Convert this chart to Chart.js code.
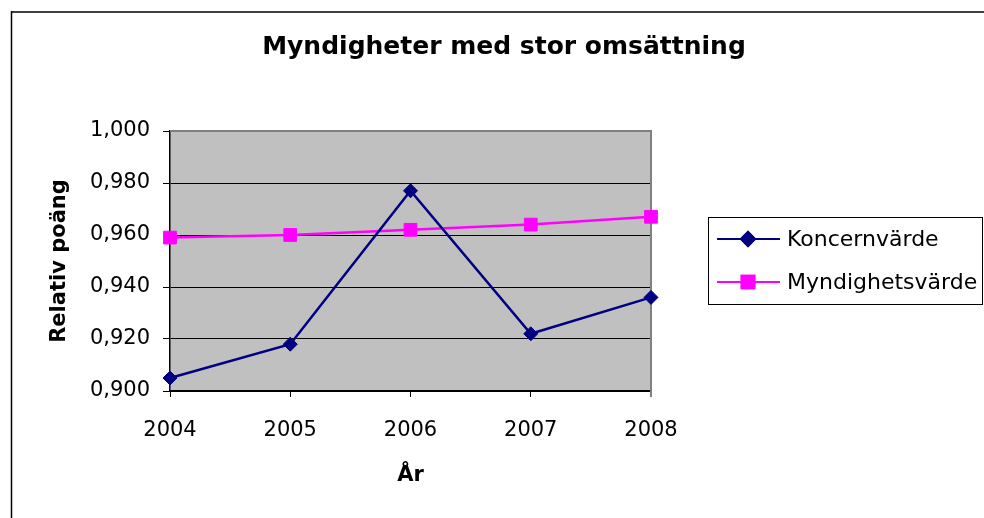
<!DOCTYPE html>
<html>
<head>
<meta charset="utf-8">
<script src="https://cdn.jsdelivr.net/npm/chart.js@4/dist/chart.umd.min.js"></script>
<style>
  html, body { margin: 0; padding: 0; background: #fff; overflow: hidden; }
  #wrap { position: relative; width: 984px; height: 518px; }
</style>
</head>
<body>
<div id="wrap"><canvas id="chart" width="984" height="518"></canvas></div>
<script>
// data
var years = ["2004", "2005", "2006", "2007", "2008"];
var koncernvarde = [0.905, 0.918, 0.977, 0.922, 0.936];
var myndighetsvarde = [0.959, 0.960, 0.962, 0.964, 0.967];
var yMin = 0.900;
var yMax = 1.000;
var yStep = 0.020;

var titleText = "Myndigheter med stor omsättning";
var yTitle = "Relativ poäng";
var xTitle = "År";

Chart.defaults.font.family = "'DejaVu Sans', sans-serif";
Chart.defaults.color = "#000";

// grey plot area, outer frame, plot border, title and legend box
var excelLook = {
	id: "excelLook",
	beforeDraw: function (chart) {
		var ctx = chart.ctx;
		var a = chart.chartArea;
		ctx.save();
		ctx.fillStyle = "#fff";
		ctx.fillRect(0, 0, chart.width, chart.height);
		// outer frame (top and left visible)
		ctx.strokeStyle = "#404040";
		ctx.lineWidth = 2;
		ctx.beginPath();
		ctx.moveTo(11, 12);
		ctx.lineTo(chart.width + 2, 12);
		ctx.stroke();
		ctx.strokeStyle = "#000";
		ctx.lineWidth = 1.5;
		ctx.beginPath();
		ctx.moveTo(11.5, 11);
		ctx.lineTo(11.5, chart.height + 2);
		ctx.stroke();
		ctx.fillStyle = "#c0c0c0";
		ctx.fillRect(a.left, a.top, a.right - a.left, a.bottom - a.top);
		// chart title, centred on the whole chart
		ctx.fillStyle = "#000";
		ctx.font = "bold 25px 'DejaVu Sans'";
		ctx.textAlign = "center";
		ctx.textBaseline = "middle";
		ctx.fillText(titleText, 504, 47);
		ctx.restore();
	},
	beforeDatasetsDraw: function (chart) {
		var ctx = chart.ctx;
		var a = chart.chartArea;
		ctx.save();
		ctx.strokeStyle = "#808080";
		ctx.lineWidth = 2;
		ctx.beginPath();
		ctx.moveTo(a.left, a.top);
		ctx.lineTo(a.right, a.top);
		ctx.lineTo(a.right, a.bottom + 6);
		ctx.stroke();
		ctx.restore();
	},
	afterDraw: function (chart) {
		// legend box on the right
		var ctx = chart.ctx;
		ctx.save();
		ctx.strokeStyle = "#000";
		ctx.lineWidth = 1;
		ctx.strokeRect(708.5, 217.5, 274, 87);
		var rows = [239, 282];
		chart.data.datasets.forEach(function (ds, i) {
			var y = rows[i];
			ctx.strokeStyle = ds.borderColor;
			ctx.lineWidth = 2;
			ctx.beginPath();
			ctx.moveTo(717, y);
			ctx.lineTo(780, y);
			ctx.stroke();
			Chart.helpers.drawPoint(ctx, {
				pointStyle: ds.pointStyle,
				radius: ds.pointRadius,
				rotation: 0,
				borderWidth: 1
			}, 748, y);
			ctx.fillStyle = ds.backgroundColor;
			ctx.strokeStyle = ds.borderColor;
			ctx.fill();
			ctx.stroke();
			ctx.fillStyle = "#000";
			ctx.font = "22px 'DejaVu Sans'";
			ctx.textBaseline = "middle";
			ctx.textAlign = "left";
			ctx.fillText(ds.label, 787, y + 1);
		});
		ctx.restore();
	}
};

var ctx = document.getElementById("chart").getContext("2d");
new Chart(ctx, {
	type: "line",
	data: {
		labels: years,
		datasets: [
			{
				label: "Koncernvärde",
				data: koncernvarde,
				borderColor: "#000080",
				backgroundColor: "#000080",
				borderWidth: 2.5,
				pointStyle: "rectRot",
				pointRadius: 7,
				pointBorderWidth: 1,
				tension: 0,
				fill: false
			},
			{
				label: "Myndighetsvärde",
				data: myndighetsvarde,
				borderColor: "#ff00ff",
				backgroundColor: "#ff00ff",
				borderWidth: 2.5,
				pointStyle: "rect",
				pointRadius: 9,
				pointBorderWidth: 1,
				tension: 0,
				fill: false
			}
		]
	},
	options: {
		responsive: false,
		animation: false,
		layout: { padding: { left: 30, top: 131, right: 333, bottom: 0 } },
		plugins: {
			legend: { display: false },
			tooltip: { enabled: false },
			title: { display: false }
		},
		scales: {
			x: {
				type: "category",
				offset: false,
				grid: {
					drawOnChartArea: false,
					drawTicks: true,
					tickLength: 6,
					color: "#000",
					tickColor: "#000"
				},
				border: { display: true, color: "#000", width: 1.5 },
				ticks: { font: { size: 21 }, padding: 21, maxRotation: 0, color: "#000" },
				title: {
					display: true,
					text: xTitle,
					font: { size: 21, weight: "bold" },
					padding: { top: 0, bottom: 30 }
				},
				afterFit: function (scale) {
					scale.height = 127;
				}
			},
			y: {
				min: yMin,
				max: yMax,
				grid: {
					color: function (c) {
						return c.tick && Math.abs(c.tick.value - yMax) < 1e-9 ? "#808080" : "#000";
					},
					tickColor: "#000",
					tickLength: 7,
					lineWidth: 1
				},
				border: { display: true, color: "#000", width: 1.5 },
				ticks: {
					stepSize: yStep,
					font: { size: 21 },
					padding: 13,
					color: "#000",
					callback: function (v) {
						return v.toFixed(3).replace(".", ",");
					}
				},
				title: {
					display: true,
					text: yTitle,
					font: { size: 21, weight: "bold" },
					padding: { top: 17, bottom: 0 }
				},
				afterFit: function (scale) {
					scale.width = 140;
				}
			}
		}
	},
	plugins: [excelLook]
});
</script>
</body>
</html>
